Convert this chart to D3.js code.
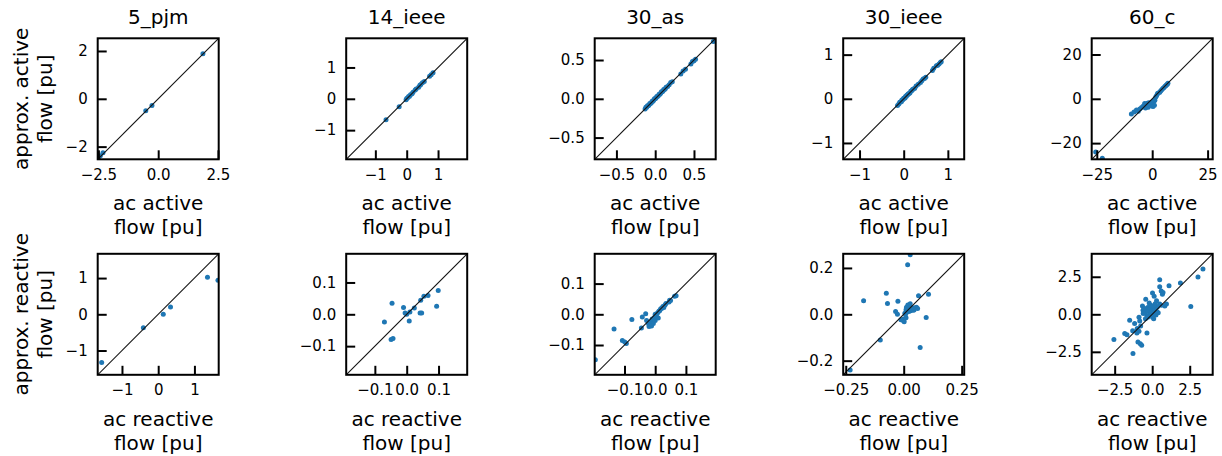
<!DOCTYPE html>
<html>
<head>
<meta charset="utf-8">
<script src="https://cdn.jsdelivr.net/npm/d3@7"></script>
<style>
  body { margin: 0; background: #fff; }
  text { font-family: "DejaVu Sans", sans-serif; fill: #000; }
</style>
</head>
<body>
<div id="chart"></div>
<script>
// Case names (one column each)
var caseNames = ['5_pjm', '14_ieee', '30_as', '30_ieee', '60_c'];

// Active flow: ac value vs approximation, per case
var pjm5ActiveAc = [1.87, -0.26, -0.52, -2.31, -2.42, -2.5];
var pjm5ActiveApprox = [1.88, -0.28, -0.5, -2.26, -2.38, -2.48];

var ieee14ActiveAc = [-0.66, -0.24, -0.02, 0.0, 0.03, 0.06, 0.09, 0.12, 0.17, 0.2, 0.27, 0.3, 0.38, 0.42, 0.45, 0.5, 0.56, 0.73, 0.78, 0.84];
var ieee14ActiveApprox = [-0.67, -0.25, -0.03, 0.01, 0.03, 0.07, 0.08, 0.13, 0.16, 0.21, 0.28, 0.31, 0.37, 0.43, 0.46, 0.51, 0.55, 0.72, 0.77, 0.83];

var as30ActiveAc = [-0.13, -0.12, -0.11, -0.1, -0.09, -0.08, -0.07, -0.06, -0.05, -0.04, -0.03, -0.02, -0.01, 0.0, 0.01, 0.02, 0.03, 0.04, 0.05, 0.06, 0.07, 0.08, 0.09, 0.1, 0.11, 0.12, 0.13, 0.14, 0.16, 0.18, 0.2, 0.22, 0.33, 0.36, 0.39, 0.46, 0.48, 0.5, 0.52, 0.75];
var as30ActiveApprox = [-0.13, -0.11, -0.11, -0.09, -0.09, -0.08, -0.06, -0.06, -0.05, -0.03, -0.03, -0.02, 0.0, 0.0, 0.01, 0.03, 0.03, 0.04, 0.06, 0.06, 0.07, 0.09, 0.09, 0.1, 0.12, 0.12, 0.13, 0.15, 0.16, 0.18, 0.21, 0.22, 0.32, 0.36, 0.38, 0.45, 0.48, 0.49, 0.51, 0.74];

var ieee30ActiveAc = [-0.14, -0.11, -0.09, -0.07, -0.05, -0.04, -0.02, 0.0, 0.01, 0.03, 0.04, 0.06, 0.07, 0.09, 0.1, 0.12, 0.14, 0.16, 0.18, 0.2, 0.22, 0.25, 0.28, 0.33, 0.38, 0.41, 0.44, 0.47, 0.5, 0.65, 0.68, 0.74, 0.77, 0.8, 0.83, 0.85];
var ieee30ActiveApprox = [-0.15, -0.12, -0.08, -0.07, -0.06, -0.03, -0.02, 0.01, 0.01, 0.02, 0.05, 0.06, 0.08, 0.09, 0.11, 0.12, 0.13, 0.17, 0.18, 0.21, 0.22, 0.24, 0.29, 0.33, 0.37, 0.41, 0.45, 0.46, 0.49, 0.64, 0.69, 0.75, 0.76, 0.79, 0.82, 0.84];

var c60ActiveAc = [-25.5, -22.5, -9.4, -8.2, -7.1, -6.3, -5.6, -4.8, -4.0, -3.4, -2.8, -2.2, -1.5, -1.0, -0.4, 0.0, 0.4, 0.8, 1.2, 1.6, 2.0, 2.4, 2.8, 3.4, 3.8, 4.3, 4.8, 5.2, 5.7, 6.1, 6.4, 6.8, 7.1, -3.0, -1.8, 0.2, 1.0];
var c60ActiveApprox = [-24.0, -26.8, -6.9, -6.0, -5.1, -5.6, -4.6, -3.9, -3.3, -2.1, -2.6, -2.0, -1.8, -2.4, -2.7, -3.2, -3.5, -1.0, -0.6, 0.8, 1.5, 2.4, 2.6, 3.0, 3.5, 4.1, 4.6, 5.0, 5.5, 5.9, 6.2, 6.6, 7.0, -4.2, -3.8, -1.5, -2.9];

// Reactive flow: ac value vs approximation, per case
var pjm5ReactiveAc = [-1.56, -0.41, 0.14, 0.34, 1.36, 1.65];
var pjm5ReactiveApprox = [-1.33, -0.37, 0.0, 0.2, 1.02, 0.94];

var ieee14ReactiveAc = [-0.046, -0.07, -0.049, -0.043, -0.01, -0.005, 0.0, 0.01, 0.008, 0.024, 0.044, 0.042, 0.047, 0.054, 0.067, 0.094, 0.099];
var ieee14ReactiveApprox = [0.035, -0.024, -0.079, -0.076, 0.021, 0.004, 0.0, 0.007, -0.021, 0.02, 0.044, 0.004, 0.004, 0.057, 0.059, 0.025, 0.075];

var as30ReactiveAc = [-0.195, -0.134, -0.107, -0.099, -0.094, -0.076, -0.042, -0.031, -0.045, -0.028, -0.022, -0.018, -0.015, -0.01, -0.006, -0.002, 0.0, 0.004, 0.008, 0.012, 0.015, 0.018, 0.022, 0.025, 0.028, 0.032, 0.035, -0.02, -0.012, 0.0, 0.01, 0.045, 0.05, 0.047, 0.063, 0.068];
var as30ReactiveApprox = [-0.148, -0.048, -0.085, -0.09, -0.095, -0.017, -0.009, 0.002, -0.045, -0.02, -0.03, -0.035, -0.025, -0.015, -0.03, -0.01, 0.0, -0.005, 0.005, 0.01, 0.012, 0.018, 0.02, 0.025, 0.022, 0.03, 0.035, -0.04, -0.038, -0.02, -0.012, 0.04, 0.045, 0.046, 0.059, 0.06];

var ieee30ReactiveAc = [-0.231, -0.173, -0.101, -0.075, -0.07, -0.025, -0.035, -0.027, -0.012, 0.002, 0.017, 0.028, 0.064, 0.107, 0.097, 0.071, 0.0, 0.005, 0.01, 0.015, 0.02, 0.025, 0.03, 0.035, 0.04, 0.045, 0.05, 0.055, 0.06, 0.008, 0.012, 0.018, 0.022, 0.028, 0.033, 0.038, 0.042, -0.005, 0.0, 0.01];
var ieee30ReactiveApprox = [-0.24, 0.058, -0.111, 0.091, 0.047, 0.056, 0.012, 0.0, -0.024, -0.032, 0.214, 0.257, 0.08, 0.086, -0.014, -0.143, -0.02, 0.005, 0.02, 0.01, 0.035, 0.03, 0.015, 0.02, 0.025, 0.02, 0.028, 0.03, 0.025, 0.0, 0.03, 0.04, 0.012, 0.045, 0.022, 0.028, 0.018, -0.025, -0.028, -0.015];

var c60ReactiveAc = [-2.55, -1.83, -1.68, -1.5, -1.28, -1.17, -1.02, -0.88, -0.95, -0.79, -0.7, -0.88, -0.83, -0.77, -0.35, -0.65, -0.61, -0.43, 0.02, 0.02, 0.13, 0.5, 0.5, 0.6, 0.68, 0.29, 0.5, 0.84, 0.95, 1.12, 0.72, 1.88, 2.57, 3.05, 3.38,
  -0.5, -0.4, -0.35, -0.3, -0.25, -0.2, -0.15, -0.1, -0.05, 0.0, 0.05, 0.1, 0.15, 0.2, 0.25, 0.3, -0.6, -0.45, 0.1, -0.2, 0.35, 0.4, -0.1, 0.05, -0.3, 0.2, -0.55, 0.6, -1.0, -1.3];
var c60ReactiveApprox = [-1.68, -1.28, -1.37, -0.39, -2.61, -0.61, -1.24, -1.13, -1.84, -1.97, -2.06, -0.2, -0.45, -0.78, -1.24, 0.56, 0.27, 1.0, -0.2, 1.42, 1.2, 2.3, 1.83, 1.56, 1.34, 0.9, 0.68, 0.56, 0.68, 1.9, 1.45, 2.08, 0.52, 2.48, 3.01,
  0.1, 0.3, -0.1, 0.45, 0.2, -0.05, 0.35, 0.6, 0.1, 0.25, -0.1, 0.4, 0.05, 0.3, -0.05, 0.2, 0.05, -0.3, -0.3, 0.75, 0.5, 0.1, 0.0, 0.55, -0.2, 0.7, 0.4, 0.6, -0.95, -1.1];

// Axis half-ranges (both axes share them)
var activeLimits = [2.53, 1.93, 0.78, 1.37, 27.3];
var reactiveLimits = [1.67, 0.19, 0.197, 0.261, 4.03];

// Tick values and labels
var activeXTicks = [[-2.5, 0, 2.5], [-1, 0, 1], [-0.5, 0, 0.5], [-1, 0, 1], [-25, 0, 25]];
var activeXLabels = [['−2.5', '0.0', '2.5'], ['−1', '0', '1'], ['−0.5', '0.0', '0.5'], ['−1', '0', '1'], ['−25', '0', '25']];
var activeYTicks = [[-2, 0, 2], [-1, 0, 1], [-0.5, 0, 0.5], [-1, 0, 1], [-20, 0, 20]];
var activeYLabels = [['−2', '0', '2'], ['−1', '0', '1'], ['−0.5', '0.0', '0.5'], ['−1', '0', '1'], ['−20', '0', '20']];

var reactiveXTicks = [[-1, 0, 1], [-0.1, 0, 0.1], [-0.1, 0, 0.1], [-0.25, 0, 0.25], [-2.5, 0, 2.5]];
var reactiveXLabels = [['−1', '0', '1'], ['−0.1', '0.0', '0.1'], ['−0.1', '0.0', '0.1'], ['−0.25', '0.00', '0.25'], ['−2.5', '0.0', '2.5']];
var reactiveYTicks = [[-1, 0, 1], [-0.1, 0, 0.1], [-0.1, 0, 0.1], [-0.2, 0, 0.2], [-2.5, 0, 2.5]];
var reactiveYLabels = [['−1', '0', '1'], ['−0.1', '0.0', '0.1'], ['−0.1', '0.0', '0.1'], ['−0.2', '0.0', '0.2'], ['−2.5', '0.0', '2.5']];

var activeAc = [pjm5ActiveAc, ieee14ActiveAc, as30ActiveAc, ieee30ActiveAc, c60ActiveAc];
var activeApprox = [pjm5ActiveApprox, ieee14ActiveApprox, as30ActiveApprox, ieee30ActiveApprox, c60ActiveApprox];
var reactiveAc = [pjm5ReactiveAc, ieee14ReactiveAc, as30ReactiveAc, ieee30ReactiveAc, c60ReactiveAc];
var reactiveApprox = [pjm5ReactiveApprox, ieee14ReactiveApprox, as30ReactiveApprox, ieee30ReactiveApprox, c60ReactiveApprox];

var width = 1222,
  height = 456,
  size = 121,
  firstLeft = 97.7,
  colStep = 248.5,
  rowTops = [38.3, 253.8],
  tickFont = 15,
  labelFont = 20,
  dotColor = '#1f77b4';

var svg = d3
  .select('#chart')
  .append('svg')
  .attr('width', width)
  .attr('height', height);

function styleAxis(g) {
  g.select('.domain').remove();
  g.selectAll('.tick line').attr('stroke', '#000').attr('stroke-width', 2);
  g.selectAll('.tick text')
    .attr('font-size', tickFont)
    .attr('font-family', '"DejaVu Sans", sans-serif')
    .attr('fill', '#000');
}

function drawPanel(col, row, ac, approx, lim, xTicks, xLabels, yTicks, yLabels, xTitle, yTitle) {
  var left = firstLeft + col * colStep,
    top = rowTops[row];

  var g = svg.append('g').attr('transform', 'translate(' + left + ',' + top + ')');

  var x = d3.scaleLinear().domain([-lim, lim]).range([0, size]);
  var y = d3.scaleLinear().domain([-lim, lim]).range([size, 0]);

  var clipId = 'clip_' + row + '_' + col;
  g.append('clipPath')
    .attr('id', clipId)
    .append('rect')
    .attr('width', size)
    .attr('height', size);

  var plot = g.append('g').attr('clip-path', 'url(#' + clipId + ')');

  plot.selectAll('circle')
    .data(ac)
    .enter()
    .append('circle')
    .attr('cx', function (d) { return x(d); })
    .attr('cy', function (d, i) { return y(approx[i]); })
    .attr('r', 2.5)
    .attr('fill', dotColor);

  // y = x reference line
  plot.append('line')
    .attr('x1', x(-lim))
    .attr('y1', y(-lim))
    .attr('x2', x(lim))
    .attr('y2', y(lim))
    .attr('stroke', '#111')
    .attr('stroke-width', 1.1);

  g.append('g')
    .attr('transform', 'translate(0,' + size + ')')
    .call(d3.axisBottom(x)
      .tickValues(xTicks)
      .tickFormat(function (d, i) { return xLabels[i]; })
      .tickSizeInner(-9)
      .tickSizeOuter(0)
      .tickPadding(10))
    .call(styleAxis);

  g.append('g')
    .call(d3.axisLeft(y)
      .tickValues(yTicks)
      .tickFormat(function (d, i) { return yLabels[i]; })
      .tickSizeInner(-9)
      .tickSizeOuter(0)
      .tickPadding(10))
    .call(styleAxis);

  g.append('rect')
    .attr('width', size)
    .attr('height', size)
    .attr('fill', 'none')
    .attr('stroke', '#000')
    .attr('stroke-width', 2);

  var xl = g.append('text')
    .attr('x', size / 2)
    .attr('y', size + 51)
    .attr('text-anchor', 'middle')
    .attr('font-size', labelFont);
  xl.append('tspan').attr('x', size / 2).text(xTitle[0]);
  xl.append('tspan').attr('x', size / 2).attr('dy', '1.2em').text(xTitle[1]);

  if (col == 0) {
    var yl = svg.append('text')
      .attr('transform', 'translate(28,' + (top + size / 2) + ') rotate(-90)')
      .attr('text-anchor', 'middle')
      .attr('font-size', labelFont);
    yl.append('tspan').attr('x', 0).text(yTitle[0]);
    yl.append('tspan').attr('x', 0).attr('dy', '1.2em').text(yTitle[1]);
  }

  if (row == 0) {
    g.append('text')
      .attr('x', size / 2)
      .attr('y', 23.5 - top)
      .attr('text-anchor', 'middle')
      .attr('font-size', labelFont)
      .text(caseNames[col]);
  }
}

caseNames.forEach(function (name, i) {
  drawPanel(i, 0, activeAc[i], activeApprox[i], activeLimits[i],
    activeXTicks[i], activeXLabels[i], activeYTicks[i], activeYLabels[i],
    ['ac active', 'flow [pu]'], ['approx. active', 'flow [pu]']);
  drawPanel(i, 1, reactiveAc[i], reactiveApprox[i], reactiveLimits[i],
    reactiveXTicks[i], reactiveXLabels[i], reactiveYTicks[i], reactiveYLabels[i],
    ['ac reactive', 'flow [pu]'], ['approx. reactive', 'flow [pu]']);
});
</script>
</body>
</html>
